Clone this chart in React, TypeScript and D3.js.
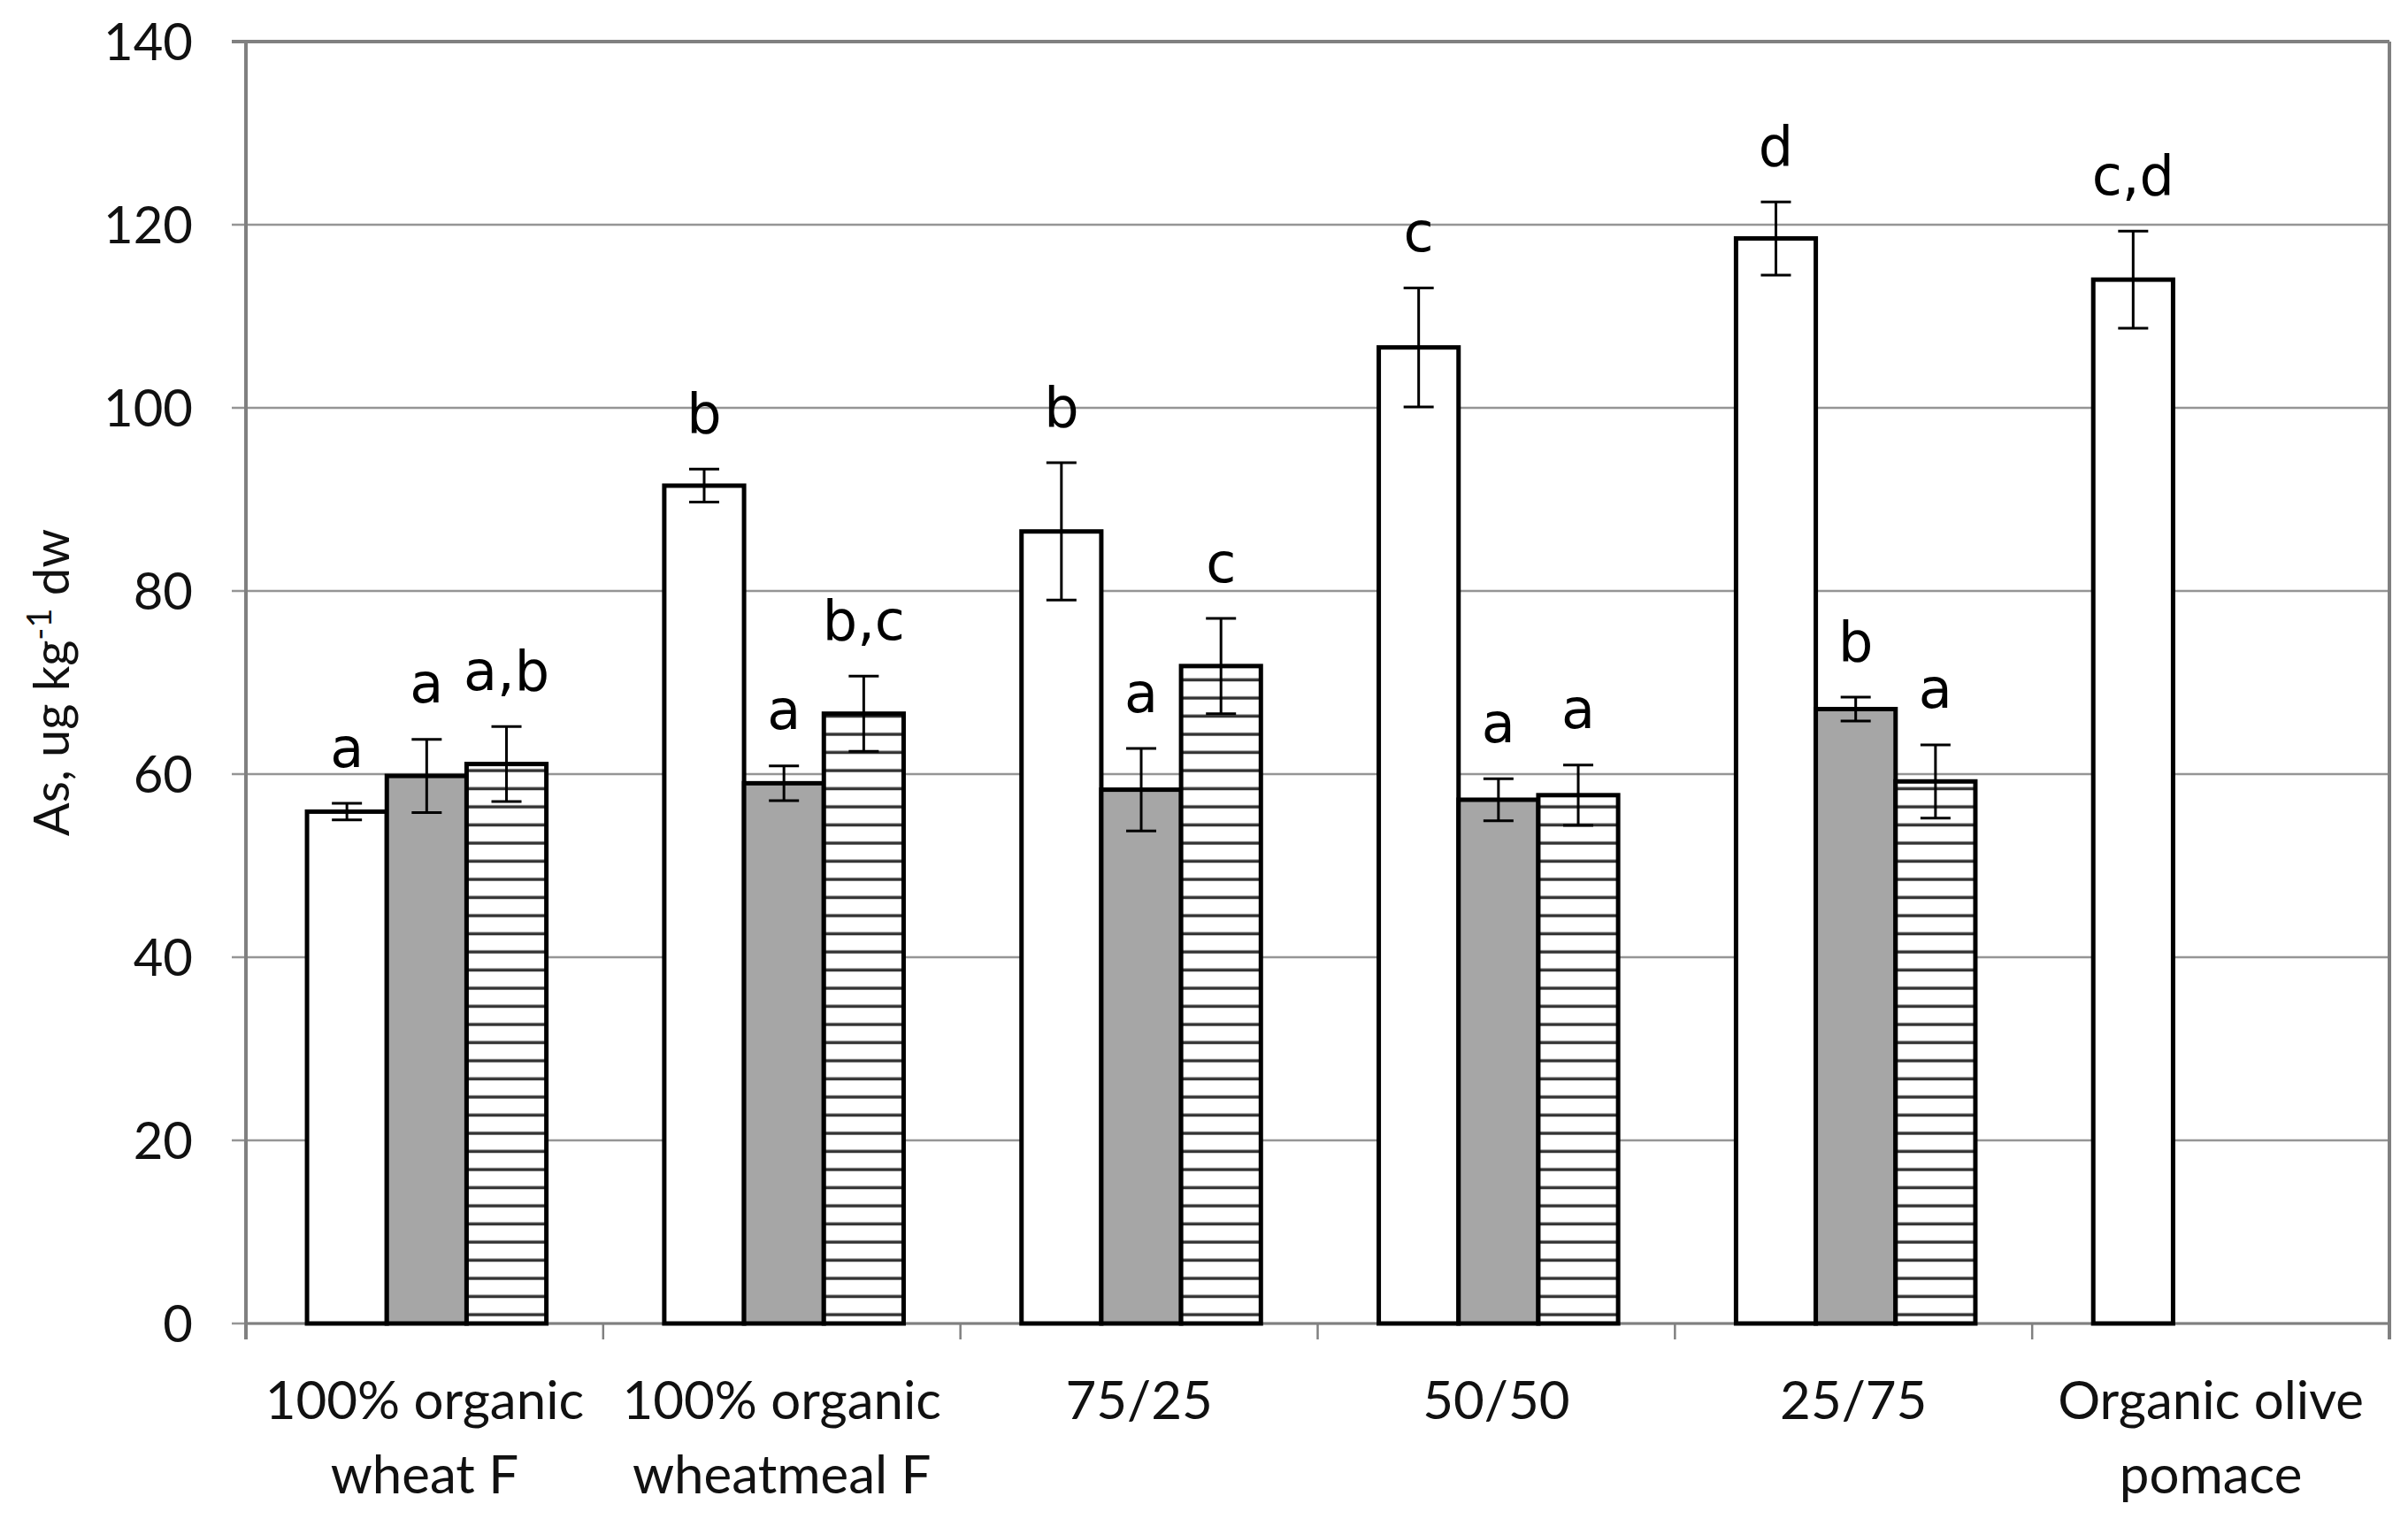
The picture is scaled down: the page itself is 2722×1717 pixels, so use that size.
import { scaleBand, scaleLinear } from 'd3';

const categories = [
  ['100% organic', 'wheat F'],
  ['100% organic', 'wheatmeal F'],
  ['75/25'],
  ['50/50'],
  ['25/75'],
  ['Organic olive', 'pomace'],
];
const series = ['s1', 's2', 's3'];

// values per category, per series (null = no bar)
const valuesWhite = [55.9, 91.5, 86.5, 106.6, 118.5, 114.0];
const valuesGray = [59.8, 59.0, 58.3, 57.2, 67.1, null];
const valuesHatch = [61.1, 66.6, 71.8, 57.7, 59.2, null];

const errWhite = [0.9, 1.8, 7.5, 6.5, 4.0, 5.3];
const errGray = [4.0, 1.9, 4.5, 2.3, 1.3, null];
const errHatch = [4.1, 4.1, 5.2, 3.3, 4.0, null];

const lettersWhite = ['a', 'b', 'b', 'c', 'd', 'c,d'];
const lettersGray = ['a', 'a', 'a', 'a', 'b', null];
const lettersHatch = ['a,b', 'b,c', 'c', 'a', 'a', null];

const yTicks = [0, 20, 40, 60, 80, 100, 120, 140];

const W = 2722;
const H = 1717;
const margin = { left: 278, right: W - 2701, top: 47, bottom: H - 1496 };

const App = () => {
  const x0 = scaleBand<number>()
    .domain(categories.map((_, i) => i))
    .range([margin.left, W - margin.right])
    .padding(0);
  const bw = x0.bandwidth();
  const x1 = scaleBand<string>()
    .domain(series)
    .range([bw * 0.171, bw * 0.841])
    .padding(0);
  const y = scaleLinear().domain([0, 140]).range([H - margin.bottom, margin.top]);

  const allVals = [valuesWhite, valuesGray, valuesHatch];
  const allErr = [errWhite, errGray, errHatch];
  const allLetters = [lettersWhite, lettersGray, lettersHatch];
  const fills = ['#ffffff', '#a6a6a6', 'url(#hatch)'];

  const plotL = margin.left;
  const plotR = W - margin.right;
  const plotT = margin.top;
  const plotB = H - margin.bottom;

  return (
    <svg
      width={W}
      height={H}
      style={{ position: 'absolute', left: 0, top: 0, background: 'white' }}
    >
      <defs>
        <pattern id="hatch" patternUnits="userSpaceOnUse" width="20" height="20.5">
          <rect width="20" height="20.5" fill="white" />
          <line x1="0" x2="20" y1="10" y2="10" stroke="#333" strokeWidth="3.5" />
        </pattern>
      </defs>

      {/* gridlines */}
      {yTicks.map((t) => (
        <g key={t}>
          <line
            x1={plotL - 16}
            x2={plotR}
            y1={y(t)}
            y2={y(t)}
            stroke={t === 140 ? '#808080' : '#959595'}
            strokeWidth={t === 140 ? 4 : 2.5}
          />
          <text
            x={plotL - 60}
            y={y(t)}
            dy="0.36em"
            textAnchor="end"
            fontFamily="Lato, 'Open Sans', sans-serif"
            fontSize={58}
            fill="#111"
          >
            {t}
          </text>
        </g>
      ))}

      {/* plot border left / right / bottom */}
      <line x1={plotL} x2={plotL} y1={plotT} y2={plotB + 18} stroke="#808080" strokeWidth={4} />
      <line x1={plotR} x2={plotR} y1={plotT} y2={plotB + 18} stroke="#808080" strokeWidth={4} />
      <line x1={plotL} x2={plotR} y1={plotB} y2={plotB} stroke="#808080" strokeWidth={3} />

      {/* category ticks */}
      {categories.map((_, i) =>
        i > 0 ? (
          <line
            key={i}
            x1={x0(i)}
            x2={x0(i)}
            y1={plotB}
            y2={plotB + 18}
            stroke="#808080"
            strokeWidth={2.5}
          />
        ) : null,
      )}

      {/* bars */}
      {categories.map((_, ci) => (
        <g key={ci} transform={`translate(${x0(ci)},0)`}>
          {series.map((s, si) => {
            const v = allVals[si][ci];
            if (v === null) return null;
            const bx = x1(s) as number;
            const bwid = x1.bandwidth();
            const e = allErr[si][ci] as number;
            const cx = bx + bwid / 2;
            const letter = allLetters[si][ci];
            return (
              <g key={s}>
                <rect
                  x={bx}
                  y={y(v)}
                  width={bwid}
                  height={y(0) - y(v)}
                  fill={fills[si]}
                  stroke="#000"
                  strokeWidth={5}
                />
                <line x1={cx} x2={cx} y1={y(v + e)} y2={y(v - e)} stroke="#000" strokeWidth={3} />
                <line x1={cx - 17} x2={cx + 17} y1={y(v + e)} y2={y(v + e)} stroke="#000" strokeWidth={3} />
                <line x1={cx - 17} x2={cx + 17} y1={y(v - e)} y2={y(v - e)} stroke="#000" strokeWidth={3} />
                {letter && (
                  <text
                    x={cx}
                    y={y(v + e + 4)}
                    textAnchor="middle"
                    fontFamily="'DejaVu Sans', Verdana, sans-serif"
                    fontSize={62}
                    fill="#000"
                  >
                    {letter}
                  </text>
                )}
              </g>
            );
          })}
        </g>
      ))}

      {/* category labels */}
      {categories.map((lines, i) => (
        <text
          key={i}
          x={(x0(i) as number) + bw / 2}
          textAnchor="middle"
          fontFamily="Lato, 'Open Sans', sans-serif"
          fontSize={60}
          fill="#111"
        >
          {lines.map((l, li) => (
            <tspan key={li} x={(x0(i) as number) + bw / 2} y={1604 + li * 84}>
              {l}
            </tspan>
          ))}
        </text>
      ))}

      {/* y axis title */}
      <text
        transform={`translate(78,${(plotT + plotB) / 2}) rotate(-90)`}
        textAnchor="middle"
        fontFamily="Lato, 'Open Sans', sans-serif"
        fontSize={56}
        fill="#111"
      >
        As, ug kg
        <tspan dy="-20" fontSize={38}>-1</tspan>
        <tspan dy="20"> dw</tspan>
      </text>
    </svg>
  );
};

export default App;
